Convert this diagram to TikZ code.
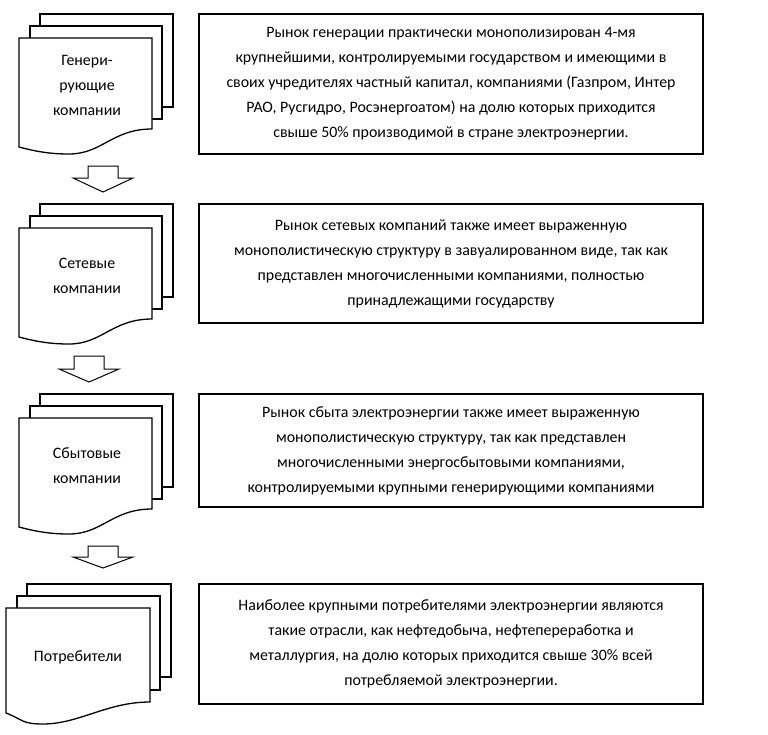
\documentclass[tikz,border=0pt]{standalone}
\usepackage{fontspec}
\setmainfont{Carlito}

\tikzset{
  page/.style={draw=black, fill=white, line width=1.3pt, line join=miter},
  infobox/.style={draw=black, line width=1.3pt, minimum width=504pt, align=center, inner sep=0pt, font=\fontsize{15.9}{25}\selectfont},
  stacklabel/.style={align=center, inner sep=0pt, font=\fontsize{15.9}{25}\selectfont},
  flowarrow/.style={draw=black, fill=white, line width=1pt, line join=miter},
}

% stack of three pages: front x1, x2, top, left bottom, right bottom, wave low x, wave low y, middle bottom, back bottom
\newcommand{\docstack}[9]{%
  \draw[page] (#1+21,#3-24) rectangle (#2+21,#9);
  \draw[page] (#1+11,#3-12) rectangle (#2+10,#8);
  \draw[page] (#1,#3) -- (#2,#3) -- (#2,#5)
    .. controls ({#2-0.3*(#2-#1)},#5) and ({#6+0.25*(#2-#1)},#7) .. (#6,#7)
    .. controls ({#6-0.15*(#2-#1)},#7) and ({#1+0.12*(#2-#1)},{#4+0.6*(#7-#4)}) .. (#1,#4) -- cycle;
}
% block arrow pointing down: centre x, shaft top, head top, tip
\newcommand{\blockarr}[4]{%
  \draw[flowarrow] (#1-15,#2) -- (#1+15,#2) -- (#1+15,#3) -- (#1+30,#3) -- (#1,#4) -- (#1-30,#3) -- (#1-15,#3) -- cycle;
}

\begin{document}
\begin{tikzpicture}[x=1pt,y=1pt,yscale=-1,xscale=1]
\useasboundingbox (0,0) rectangle (768,734);

%Shape: Multidocument
\docstack{19}{152}{38}{147}{129}{69}{154}{119}{107}
%Shape: Multidocument
\docstack{19}{152}{228}{337}{319}{69}{344}{309}{297}
%Shape: Multidocument
\docstack{19}{152}{418}{527}{509}{69}{534}{499}{487}
%Shape: Multidocument
\docstack{6}{150}{608}{713}{702}{43}{724}{690}{677}

%Shape: Down Arrow
\blockarr{103}{166}{178}{192}
%Shape: Down Arrow
\blockarr{89}{356}{369}{382}
%Shape: Down Arrow
\blockarr{103}{546}{557}{568}

% Text Node
\node[stacklabel] (gen) at (87,85) {Генери-\\рующие\\компании};
% Text Node
\node[stacklabel] (set) at (87,276) {Сетевые\\компании};
% Text Node
\node[stacklabel] (sbyt) at (87,466) {Сбытовые\\компании};
% Text Node
\node[stacklabel] (potr) at (78,657) {Потребители};

% Text Node
\node[infobox, minimum height=140pt] (genbox) at (451,84) {Рынок генерации практически монополизирован 4-мя\\крупнейшими, контролируемыми государством и имеющими в\\своих учредителях частный капитал, компаниями (Газпром, Интер\\РАО, Русгидро, Росэнергоатом) на долю которых приходится\\свыше 50\% производимой в стране электроэнергии.};
% Text Node
\node[infobox, minimum height=119pt] (setbox) at (451,263.5) {Рынок сетевых компаний также имеет выраженную\\монополистическую структуру в завуалированном виде, так как\\представлен многочисленными компаниями, полностью\\принадлежащими государству};
% Text Node
\node[infobox, minimum height=113pt] (sbytbox) at (451,450.5) {Рынок сбыта электроэнергии также имеет выраженную\\монополистическую структуру, так как представлен\\многочисленными энергосбытовыми компаниями,\\контролируемыми крупными генерирующими компаниями};
% Text Node
\node[infobox, minimum height=120pt] (potrbox) at (451,644) {Наиболее крупными потребителями электроэнергии являются\\такие отрасли, как нефтедобыча, нефтепереработка и\\металлургия, на долю которых приходится свыше 30\% всей\\потребляемой электроэнергии.};
\end{tikzpicture}
\end{document}
